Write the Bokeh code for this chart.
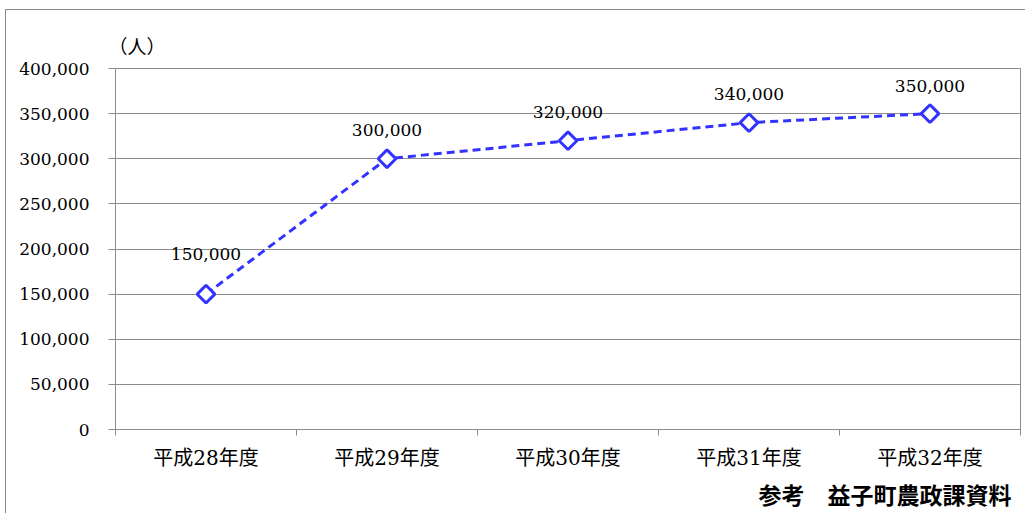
import math
from bokeh.plotting import figure
from bokeh.models import (ColumnDataSource, FixedTicker, NumeralTickFormatter, Title, Range1d)
from bokeh.core.properties import value
from bokeh.embed import file_html
from bokeh.resources import INLINE

# ---- data ----
categories = ["平成28年度", "平成29年度", "平成30年度", "平成31年度", "平成32年度"]
visitors = [150000, 300000, 320000, 340000, 350000]
value_labels = ["150,000", "300,000", "320,000", "340,000", "350,000"]
y_ticks = [0, 50000, 100000, 150000, 200000, 250000, 300000, 350000, 400000]
unit_text = "（人）"
source_text = "参考　益子町農政課資料"

# ---- styles ----
label_offsets = [-40, -29, -29, -29, -28]
GRAY = "#8c8c8c"
BLUE = "#3333ff"
NUM_FONT = "DejaVu Serif, Noto Sans CJK JP"

xs = [i + 0.5 for i in range(len(categories))]
src = ColumnDataSource(dict(x=xs, y=visitors, lab=value_labels, dy=label_offsets))

frame_bg = ("linear-gradient(#8c8c8c,#8c8c8c) 5px 9px / 1px 100% no-repeat, "
            "linear-gradient(#8c8c8c,#8c8c8c) 5px 9px / 100% 1px no-repeat, white")

p = figure(width=1025, height=513, output_backend="svg", toolbar_location=None,
           x_range=Range1d(0, len(categories)), y_range=Range1d(0, 400000),
           min_border_left=115, min_border_right=5, min_border_top=68, min_border_bottom=81,
           background_fill_color="white", border_fill_color=None,
           styles={"background": frame_bg})

p.outline_line_color = GRAY
p.outline_line_width = 1

# grid
p.xgrid.grid_line_color = None
p.ygrid.grid_line_color = GRAY
p.ygrid.grid_line_width = 1
p.ygrid.ticker = FixedTicker(ticks=y_ticks)

# y axis
p.yaxis.ticker = FixedTicker(ticks=y_ticks)
p.yaxis.formatter = NumeralTickFormatter(format="0,0")
p.yaxis.axis_line_color = GRAY
p.yaxis.major_tick_line_color = GRAY
p.yaxis.major_tick_out = 7
p.yaxis.major_tick_in = 0
p.yaxis.minor_tick_line_color = None
p.yaxis.major_label_standoff = 19
p.yaxis.major_label_text_font = NUM_FONT
p.yaxis.major_label_text_font_size = "17px"
p.yaxis.major_label_text_color = "black"

# x axis: labels at category centres, ticks at category boundaries
p.xaxis.ticker = FixedTicker(ticks=xs, minor_ticks=list(range(len(categories) + 1)))
p.xaxis.major_label_overrides = {x: c for x, c in zip(xs, categories)}
p.xaxis.axis_line_color = GRAY
p.xaxis.major_tick_line_color = None
p.xaxis.major_tick_out = 0
p.xaxis.major_tick_in = 0
p.xaxis.minor_tick_line_color = GRAY
p.xaxis.minor_tick_out = 6
p.xaxis.minor_tick_in = 0
p.xaxis.major_label_standoff = 10
p.xaxis.major_label_text_font = NUM_FONT
p.xaxis.major_label_text_font_size = "20px"
p.xaxis.major_label_text_color = "black"

# series
p.line("x", "y", source=src, line_color=BLUE, line_width=3, line_dash="8 5")
p.scatter("x", "y", source=src, marker="square", size=12.5, angle=math.pi / 4,
          fill_color="white", line_color=BLUE, line_width=3)
p.text("x", "y", text="lab", source=src, y_offset="dy", text_align="center",
       text_baseline="middle", text_font=value(NUM_FONT), text_font_size="17px",
       text_color="black")

# unit label and source note
p.add_layout(Title(text=unit_text, align="left", offset=-7, standoff=22,
                   text_font=NUM_FONT, text_font_size="19px", text_font_style="normal",
                   text_color="black"), "above")
p.add_layout(Title(text=source_text, align="right", offset=9, standoff=5,
                   text_font="Noto Sans CJK JP", text_font_size="23px", text_font_style="bold",
                   text_color="black"), "below")

open("out.html", "w").write(file_html(p, INLINE))
